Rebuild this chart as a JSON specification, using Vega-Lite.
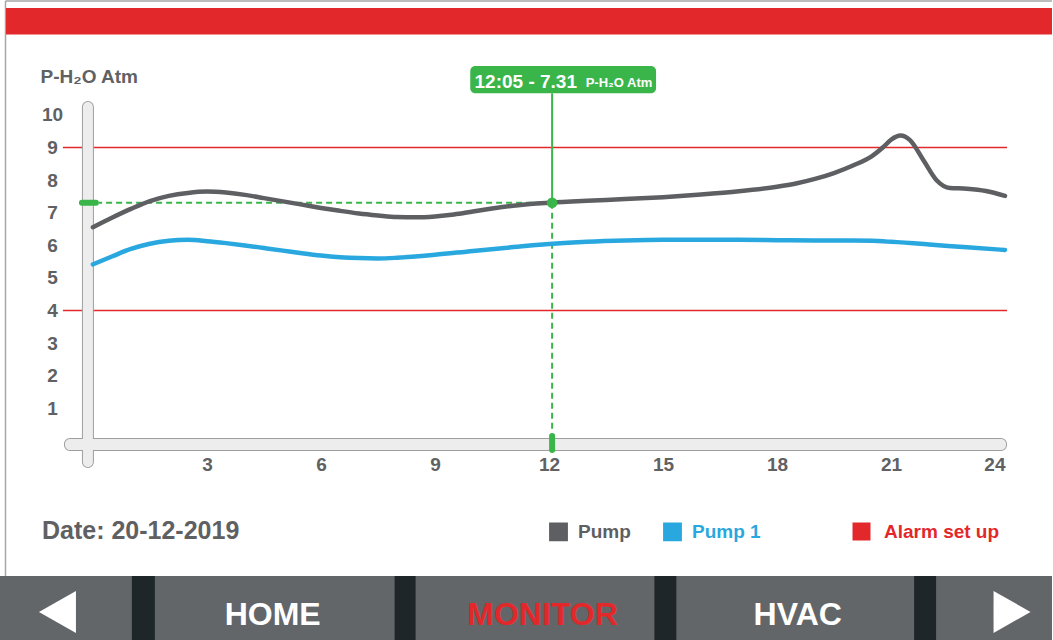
{
  "$schema": "https://vega.github.io/schema/vega-lite/v6.json",
  "width": 1053,
  "height": 640,
  "autosize": {"type": "fit", "contains": "padding"},
  "padding": 0,
  "background": "#FFFFFF",
  "config": {"view": {"stroke": null}, "font": "Liberation Sans"},
  "data": {"values": [{}]},
  "datasets": {
    "readings": [
      {"hour": 0, "series": "Pump", "pressure": 6.56},
      {"hour": 0.5, "series": "Pump", "pressure": 6.85},
      {"hour": 1, "series": "Pump", "pressure": 7.12},
      {"hour": 1.5, "series": "Pump", "pressure": 7.36},
      {"hour": 2, "series": "Pump", "pressure": 7.52},
      {"hour": 2.5, "series": "Pump", "pressure": 7.61},
      {"hour": 3, "series": "Pump", "pressure": 7.65},
      {"hour": 3.5, "series": "Pump", "pressure": 7.62},
      {"hour": 4, "series": "Pump", "pressure": 7.55},
      {"hour": 4.5, "series": "Pump", "pressure": 7.45},
      {"hour": 5, "series": "Pump", "pressure": 7.35},
      {"hour": 5.5, "series": "Pump", "pressure": 7.25},
      {"hour": 6, "series": "Pump", "pressure": 7.15},
      {"hour": 6.5, "series": "Pump", "pressure": 7.06},
      {"hour": 7, "series": "Pump", "pressure": 6.98},
      {"hour": 7.5, "series": "Pump", "pressure": 6.92},
      {"hour": 8, "series": "Pump", "pressure": 6.87},
      {"hour": 8.5, "series": "Pump", "pressure": 6.86},
      {"hour": 9, "series": "Pump", "pressure": 6.89},
      {"hour": 9.5, "series": "Pump", "pressure": 6.95},
      {"hour": 10, "series": "Pump", "pressure": 7.04},
      {"hour": 10.5, "series": "Pump", "pressure": 7.13},
      {"hour": 11, "series": "Pump", "pressure": 7.21},
      {"hour": 11.5, "series": "Pump", "pressure": 7.27},
      {"hour": 12, "series": "Pump", "pressure": 7.31},
      {"hour": 13, "series": "Pump", "pressure": 7.37},
      {"hour": 14, "series": "Pump", "pressure": 7.42},
      {"hour": 15, "series": "Pump", "pressure": 7.48},
      {"hour": 16, "series": "Pump", "pressure": 7.56},
      {"hour": 17, "series": "Pump", "pressure": 7.66},
      {"hour": 18, "series": "Pump", "pressure": 7.8},
      {"hour": 18.5, "series": "Pump", "pressure": 7.9},
      {"hour": 19, "series": "Pump", "pressure": 8.04},
      {"hour": 19.5, "series": "Pump", "pressure": 8.22},
      {"hour": 20, "series": "Pump", "pressure": 8.45},
      {"hour": 20.5, "series": "Pump", "pressure": 8.74},
      {"hour": 20.8, "series": "Pump", "pressure": 9.02},
      {"hour": 21, "series": "Pump", "pressure": 9.24},
      {"hour": 21.25, "series": "Pump", "pressure": 9.37},
      {"hour": 21.5, "series": "Pump", "pressure": 9.23},
      {"hour": 21.85, "series": "Pump", "pressure": 8.62},
      {"hour": 22.2, "series": "Pump", "pressure": 8.0},
      {"hour": 22.55, "series": "Pump", "pressure": 7.76},
      {"hour": 23, "series": "Pump", "pressure": 7.74},
      {"hour": 23.5, "series": "Pump", "pressure": 7.67},
      {"hour": 24, "series": "Pump", "pressure": 7.52},
      {"hour": 0, "series": "Pump 1", "pressure": 5.42},
      {"hour": 0.5, "series": "Pump 1", "pressure": 5.66},
      {"hour": 1, "series": "Pump 1", "pressure": 5.89},
      {"hour": 1.5, "series": "Pump 1", "pressure": 6.05},
      {"hour": 2, "series": "Pump 1", "pressure": 6.14},
      {"hour": 2.5, "series": "Pump 1", "pressure": 6.17},
      {"hour": 3, "series": "Pump 1", "pressure": 6.13},
      {"hour": 3.5, "series": "Pump 1", "pressure": 6.07},
      {"hour": 4, "series": "Pump 1", "pressure": 6.0},
      {"hour": 4.5, "series": "Pump 1", "pressure": 5.92},
      {"hour": 5, "series": "Pump 1", "pressure": 5.84},
      {"hour": 5.5, "series": "Pump 1", "pressure": 5.76},
      {"hour": 6, "series": "Pump 1", "pressure": 5.69},
      {"hour": 6.5, "series": "Pump 1", "pressure": 5.64},
      {"hour": 7, "series": "Pump 1", "pressure": 5.61},
      {"hour": 7.5, "series": "Pump 1", "pressure": 5.6},
      {"hour": 8, "series": "Pump 1", "pressure": 5.62},
      {"hour": 9, "series": "Pump 1", "pressure": 5.71},
      {"hour": 10, "series": "Pump 1", "pressure": 5.83},
      {"hour": 11, "series": "Pump 1", "pressure": 5.94},
      {"hour": 12, "series": "Pump 1", "pressure": 6.04},
      {"hour": 13, "series": "Pump 1", "pressure": 6.11},
      {"hour": 14, "series": "Pump 1", "pressure": 6.15},
      {"hour": 15, "series": "Pump 1", "pressure": 6.17},
      {"hour": 16, "series": "Pump 1", "pressure": 6.17},
      {"hour": 17, "series": "Pump 1", "pressure": 6.17},
      {"hour": 18, "series": "Pump 1", "pressure": 6.16},
      {"hour": 19, "series": "Pump 1", "pressure": 6.15},
      {"hour": 20, "series": "Pump 1", "pressure": 6.15},
      {"hour": 20.5, "series": "Pump 1", "pressure": 6.14},
      {"hour": 21, "series": "Pump 1", "pressure": 6.11},
      {"hour": 22, "series": "Pump 1", "pressure": 6.03},
      {"hour": 23, "series": "Pump 1", "pressure": 5.94},
      {"hour": 24, "series": "Pump 1", "pressure": 5.86}
    ],
    "alarms": [
      {"series": "Alarm set up", "pressure": 9},
      {"series": "Alarm set up", "pressure": 4}
    ],
    "cursor": [
      {"hour": 12.083, "time": "12:05", "pressure": 7.31}
    ]
  },
  "layer": [
    {
      "mark": {"type": "rule", "color": "#A6A6A6", "strokeWidth": 1.5},
      "encoding": {"x": {"datum": -2.3}, "y": {"datum": 13.5}, "y2": {"datum": -4.141}}
    },
    {
      "mark": {"type": "rule", "color": "#A6A6A6", "strokeWidth": 1.5},
      "encoding": {"x": {"datum": -2.3}, "x2": {"datum": 25.2366}, "y": {"datum": 13.5}}
    },
    {
      "mark": {"type": "rect", "color": "#E2282B"},
      "encoding": {"x": {"datum": -2.287}, "x2": {"datum": 25.2366}, "y": {"datum": 13.282}, "y2": {"datum": 12.47}}
    },
    {
      "data": {"name": "alarms"},
      "mark": {"type": "rule", "strokeWidth": 1.5},
      "encoding": {
        "x": {"datum": -0.789},
        "x2": {"datum": 24.054},
        "y": {"field": "pressure", "type": "quantitative"},
        "stroke": {
          "field": "series",
          "type": "nominal",
          "scale": {"domain": ["Alarm set up"], "range": ["#E2282B"]},
          "legend": {
            "orient": "none",
            "legendX": 852,
            "legendY": 522,
            "direction": "horizontal",
            "title": null,
            "padding": 0,
            "symbolType": "square",
            "symbolSize": 272,
            "symbolFillColor": "#E2282B",
            "labelColor": "#E2282B",
            "labelFont": "Liberation Sans",
            "labelFontSize": 19,
            "labelFontWeight": "bold",
            "labelOffset": 13
          }
        }
      }
    },
    {
      "mark": {"type": "rect", "fill": "#EDEDED", "stroke": "#9E9E9E", "strokeWidth": 2, "cornerRadius": 5},
      "encoding": {"x": {"datum": -0.263}, "x2": {"datum": 0}, "y": {"datum": 10.399}, "y2": {"datum": -0.798}}
    },
    {
      "mark": {"type": "rect", "fill": "#EDEDED", "stroke": "#9E9E9E", "strokeWidth": 2, "cornerRadius": 5},
      "encoding": {"x": {"datum": -0.736}, "x2": {"datum": 24.027}, "y": {"datum": 0.061}, "y2": {"datum": -0.276}}
    },
    {
      "mark": {"type": "rect", "fill": "#EDEDED", "cornerRadius": 5},
      "encoding": {"x": {"datum": -0.263}, "x2": {"datum": 0}, "y": {"datum": 10.399}, "y2": {"datum": -0.798}}
    },
    {
      "mark": {"type": "rect", "fill": "#EDEDED", "cornerRadius": 5},
      "encoding": {"x": {"datum": -0.736}, "x2": {"datum": 24.027}, "y": {"datum": 0.061}, "y2": {"datum": -0.276}}
    },
    {
      "data": {"name": "cursor"},
      "mark": {"type": "rule", "color": "#3AB54A", "strokeWidth": 2, "strokeDash": [6, 4]},
      "encoding": {"x": {"field": "hour", "type": "quantitative"}, "x2": {"datum": 0.158}, "y": {"field": "pressure", "type": "quantitative"}}
    },
    {
      "data": {"name": "cursor"},
      "mark": {"type": "rule", "color": "#3AB54A", "strokeWidth": 2, "strokeDash": [6, 4]},
      "encoding": {"x": {"field": "hour", "type": "quantitative"}, "y": {"field": "pressure", "type": "quantitative"}, "y2": {"datum": 0.3}}
    },
    {
      "data": {"name": "cursor"},
      "mark": {"type": "rule", "color": "#3AB54A", "strokeWidth": 6, "strokeCap": "round"},
      "encoding": {"x": {"datum": -0.289}, "x2": {"datum": 0.079}, "y": {"field": "pressure", "type": "quantitative"}}
    },
    {
      "data": {"name": "cursor"},
      "mark": {"type": "rule", "color": "#3AB54A", "strokeWidth": 6, "strokeCap": "round"},
      "encoding": {"x": {"field": "hour", "type": "quantitative"}, "y": {"datum": 0.153}, "y2": {"datum": -0.276}}
    },
    {
      "data": {"name": "readings"},
      "mark": {"type": "line", "interpolate": "monotone", "strokeWidth": 4.5, "strokeCap": "round"},
      "encoding": {
        "x": {
          "field": "hour",
          "type": "quantitative",
          "scale": {"domain": [-2.4448, 25.2366], "nice": false, "zero": false},
          "axis": {
            "orient": "bottom",
            "offset": -186,
            "values": [3, 6, 9, 12, 15, 18, 21, 24],
            "title": null,
            "domain": false,
            "ticks": false,
            "tickSize": 0,
            "grid": false,
            "labelPadding": 10,
            "labelBaseline": "middle",
            "labelAlign": {"expr": "datum.value === 24 ? 'right' : 'center'"},
            "labelOverlap": false,
            "labelFlush": false,
            "labelFont": "Liberation Sans",
            "labelFontSize": 19,
            "labelFontWeight": "bold",
            "labelColor": "#606163"
          }
        },
        "y": {
          "field": "pressure",
          "type": "quantitative",
          "scale": {"domain": [-6.1043, 13.5276], "nice": false, "zero": false},
          "axis": {
            "orient": "left",
            "offset": -62,
            "values": [1, 2, 3, 4, 5, 6, 7, 8, 9, 10],
            "domain": false,
            "ticks": false,
            "tickSize": 0,
            "grid": false,
            "labelPadding": 10,
            "labelAlign": "center",
            "labelBaseline": "middle",
            "labelOverlap": false,
            "labelFlush": false,
            "labelFont": "Liberation Sans",
            "labelFontSize": 19,
            "labelFontWeight": "bold",
            "labelColor": "#606163",
            "title": "P-H₂O Atm",
            "titleAngle": 0,
            "titleX": -22,
            "titleY": 82,
            "titleAlign": "left",
            "titleBaseline": "alphabetic",
            "titleFont": "Liberation Sans",
            "titleFontSize": 19,
            "titleFontWeight": "bold",
            "titleColor": "#606163"
          }
        },
        "color": {
          "field": "series",
          "type": "nominal",
          "scale": {"domain": ["Pump", "Pump 1"], "range": ["#5E5F62", "#29A8E0"]},
          "legend": {
            "orient": "none",
            "legendX": 549,
            "legendY": 522,
            "direction": "horizontal",
            "title": null,
            "padding": 0,
            "symbolType": "square",
            "symbolSize": 300,
            "symbolFillColor": {"expr": "datum.value === 'Pump 1' ? '#29A8E0' : '#5E5F62'"},
            "labelColor": {"expr": "datum.value === 'Pump 1' ? '#29A8E0' : '#5E5F62'"},
            "labelFont": "Liberation Sans",
            "labelFontSize": 19,
            "labelFontWeight": "bold",
            "labelOffset": 10,
            "columnPadding": 29
          }
        }
      }
    },
    {
      "data": {"name": "cursor"},
      "mark": {"type": "rule", "color": "#3AB54A", "strokeWidth": 2},
      "encoding": {"x": {"field": "hour", "type": "quantitative"}, "y": {"field": "pressure", "type": "quantitative"}, "y2": {"datum": 10.666}}
    },
    {
      "data": {"name": "cursor"},
      "mark": {"type": "point", "shape": "circle", "filled": true, "opacity": 1, "color": "#3AB54A", "size": 113},
      "encoding": {"x": {"field": "hour", "type": "quantitative"}, "y": {"field": "pressure", "type": "quantitative"}}
    },
    {
      "mark": {"type": "rect", "color": "#3AB54A", "cornerRadius": 5},
      "encoding": {"x": {"datum": 9.929}, "x2": {"datum": 14.818}, "y": {"datum": 11.503}, "y2": {"datum": 10.666}}
    },
    {
      "data": {"name": "cursor"},
      "transform": [{"calculate": "datum.time + ' - ' + format(datum.pressure, '.2f')", "as": "readout"}],
      "mark": {"type": "text", "color": "#FFFFFF", "font": "Liberation Sans", "fontSize": 19, "fontWeight": "bold", "align": "left", "baseline": "alphabetic"},
      "encoding": {"x": {"datum": 10.042}, "y": {"datum": 10.828}, "text": {"field": "readout"}}
    },
    {
      "mark": {"type": "text", "text": "P-H₂O Atm", "color": "#FFFFFF", "font": "Liberation Sans", "fontSize": 13, "fontWeight": "bold", "align": "right", "baseline": "alphabetic"},
      "encoding": {"x": {"datum": 14.721}, "y": {"datum": 10.859}}
    },
    {
      "mark": {"type": "text", "text": "Date: 20-12-2019", "color": "#5F6062", "font": "Liberation Sans", "fontSize": 25, "fontWeight": "bold", "align": "left", "baseline": "alphabetic"},
      "encoding": {"x": {"datum": -1.341}, "y": {"datum": -3.006}}
    },
    {
      "mark": {"type": "rect", "color": "#636669"},
      "encoding": {"x": {"datum": -2.4448}, "x2": {"datum": 25.2366}, "y": {"datum": -4.141}, "y2": {"datum": -6.1043}}
    },
    {
      "mark": {"type": "rect", "color": "#1F2629"},
      "encoding": {"x": {"datum": 1.025}, "x2": {"datum": 1.63}, "y": {"datum": -4.141}, "y2": {"datum": -6.1043}}
    },
    {
      "mark": {"type": "rect", "color": "#1F2629"},
      "encoding": {"x": {"datum": 7.939}, "x2": {"datum": 8.491}, "y": {"datum": -4.141}, "y2": {"datum": -6.1043}}
    },
    {
      "mark": {"type": "rect", "color": "#1F2629"},
      "encoding": {"x": {"datum": 14.774}, "x2": {"datum": 15.352}, "y": {"datum": -4.141}, "y2": {"datum": -6.1043}}
    },
    {
      "mark": {"type": "rect", "color": "#1F2629"},
      "encoding": {"x": {"datum": 21.609}, "x2": {"datum": 22.187}, "y": {"datum": -4.141}, "y2": {"datum": -6.1043}}
    },
    {
      "mark": {"type": "point", "shape": "M0.881,-1L-0.881,0L0.881,1Z", "filled": true, "opacity": 1, "color": "#FFFFFF", "size": 1764, "strokeWidth": 0},
      "encoding": {"x": {"datum": -0.933}, "y": {"datum": -5.245}}
    },
    {
      "mark": {"type": "point", "shape": "M-0.881,-1L0.881,0L-0.881,1Z", "filled": true, "opacity": 1, "color": "#FFFFFF", "size": 1764, "strokeWidth": 0},
      "encoding": {"x": {"datum": 24.185}, "y": {"datum": -5.245}}
    },
    {
      "mark": {"type": "text", "text": "HOME", "color": "#FFFFFF", "font": "Liberation Sans", "fontSize": 32, "fontWeight": "bold", "align": "center", "baseline": "alphabetic"},
      "encoding": {"x": {"datum": 4.731}, "y": {"datum": -5.644}}
    },
    {
      "mark": {"type": "text", "text": "MONITOR", "color": "#E2282B", "font": "Liberation Sans", "fontSize": 32, "fontWeight": "bold", "align": "center", "baseline": "alphabetic"},
      "encoding": {"x": {"datum": 11.83}, "y": {"datum": -5.644}}
    },
    {
      "mark": {"type": "text", "text": "HVAC", "color": "#FFFFFF", "font": "Liberation Sans", "fontSize": 32, "fontWeight": "bold", "align": "center", "baseline": "alphabetic"},
      "encoding": {"x": {"datum": 18.546}, "y": {"datum": -5.644}}
    }
  ]
}
